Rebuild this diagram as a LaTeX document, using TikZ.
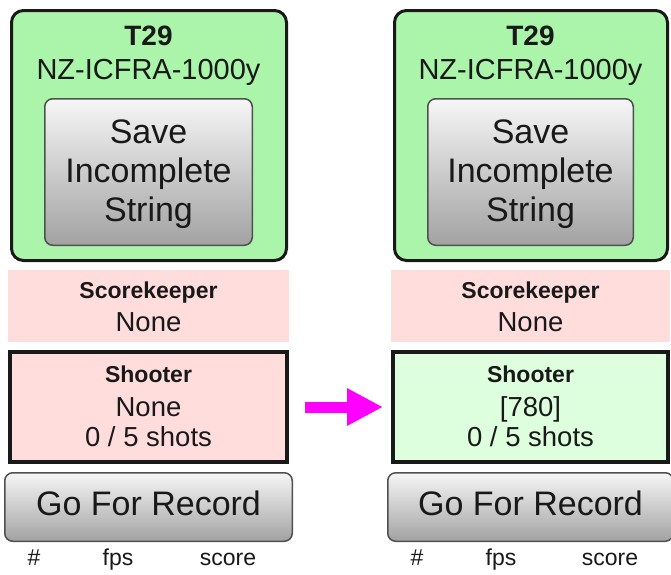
\documentclass[tikz,border=0pt]{standalone}
\usepackage{fontspec}
\setmainfont{Liberation Sans}
\usetikzlibrary{arrows.meta}

\definecolor{lanegreen}{RGB}{170,245,170}
\definecolor{panelpink}{RGB}{255,221,221}
\definecolor{okgreen}{RGB}{221,255,221}
\definecolor{inkdark}{RGB}{25,25,25}
\definecolor{btnedge}{RGB}{80,80,80}
\definecolor{btntop}{RGB}{246,246,246}
\definecolor{btnbottom}{RGB}{162,162,162}

\tikzset{
  box/.style={anchor=north west, inner sep=0pt, outer sep=0pt},
  targetbox/.style={box, draw=inkdark, line width=3pt, fill=lanegreen, rounded corners=12pt},
  btnbox/.style={box, draw=btnedge, line width=1.5pt, rounded corners=8pt,
                 top color=btntop, bottom color=btnbottom},
  infobox/.style={box, fill=panelpink},
  shooterbox/.style={box, draw=inkdark, line width=4pt},
  txt/.style={anchor=base, inner sep=0pt, text=inkdark},
  big/.style={txt, font=\fontsize{34}{39}\selectfont},
  mid/.style={txt, font=\fontsize{28}{32}\selectfont},
  bold/.style={txt, font=\fontsize{23}{27}\selectfont\bfseries},
  small/.style={txt, font=\fontsize{23}{27}\selectfont},
  moveto/.style={draw={rgb,255:red,255;green,0;blue,255}, line width=11pt,
                 -{Triangle[length=36pt,width=35pt]}}
}

% One target panel: #1 name prefix, #2 x offset, #3 width trim,
% #4 shooter fill, #5 shooter name line
\newcommand\targetpanel[5]{
  \pgfmathsetmacro\cx{#2+148.5-#3/2}
  \node[targetbox, minimum width={275-#3}, minimum height=250] (#1lane) at ({#2+11.5},10.5) {};
  \node[bold, font=\fontsize{28}{32}\selectfont\bfseries] (#1num) at (\cx,45) {T29};
  \node[txt, font=\fontsize{29}{33}\selectfont] (#1event) at (\cx,79) {NZ-ICFRA-1000y};
  \node[btnbox, minimum width={207.5-#3}, minimum height=146.5] (#1save) at ({#2+44.75},98.75) {};
  \node[big] (#1saveA) at (\cx,143) {Save};
  \node[big] (#1saveB) at (\cx,182) {Incomplete};
  \node[big] (#1saveC) at (\cx,221) {String};
  \node[infobox, minimum width={281-#3}, minimum height=72] (#1keeper) at ({#2+8},270) {};
  \node[bold] (#1keeperT) at (\cx,298) {Scorekeeper};
  \node[txt, font=\fontsize{27.5}{31}\selectfont] (#1keeperN) at (\cx,331) {None};
  \node[shooterbox, fill=#4, minimum width={277-#3}, minimum height=110] (#1shoot) at ({#2+10},352) {};
  \node[bold] (#1shootT) at (\cx,382) {Shooter};
  \node[txt, font=\fontsize{27.5}{31}\selectfont] (#1shootN) at (\cx,416) {#5};
  \node[txt, font=\fontsize{27.5}{31}\selectfont] (#1shots) at (\cx,446) {0 / 5 shots};
  \node[btnbox, minimum width={287.5-#3}, minimum height=68.5] (#1record) at ({#2+4.75},472.75) {};
  \node[big] (#1recordT) at (\cx,515) {Go For Record};
  \node[small] (#1colA) at ({#2+34},565) {\#};
  \node[small] (#1colB) at ({#2+118},565) {fps};
  \node[small] (#1colC) at ({#2+228-#3/2},565) {score};
}

\begin{document}
\begin{tikzpicture}[x=1pt, y=-1pt]
  \useasboundingbox (0,0) rectangle (671,574);
  \fill[white] (0,0) rectangle (671,574);

  \targetpanel{L}{0}{0}{panelpink}{None}
  \targetpanel{R}{383}{2}{okgreen}{[780]}

  % arrow pointing at the updated shooter box
  \coordinate (arrowtail) at (305,407);
  \draw[moveto, shorten >=10pt] (arrowtail) -- (Rshoot.west);
\end{tikzpicture}
\end{document}
